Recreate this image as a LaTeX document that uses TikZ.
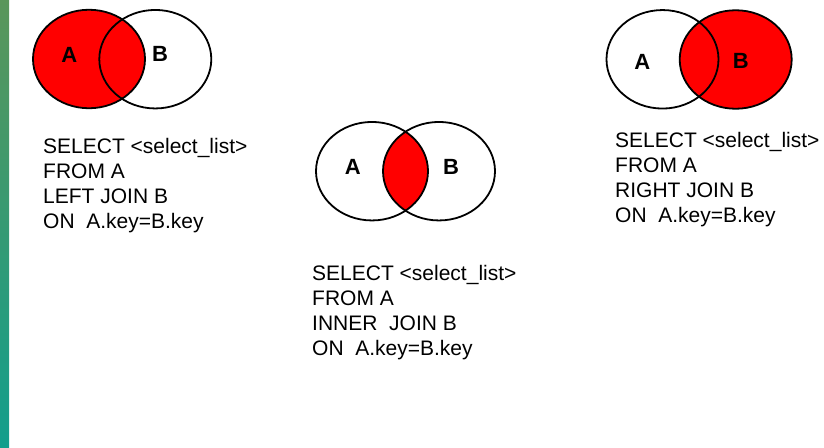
\documentclass[tikz,border=0pt]{standalone}
\usepackage{fontspec}
\setmainfont{Liberation Sans}
\usepackage{xcolor}
\usepackage{tikz}
\usetikzlibrary{shapes.geometric,backgrounds}
\definecolor{joinred}{RGB}{255,0,0}
\definecolor{stripteal}{RGB}{18,158,140}
\definecolor{stripolive}{RGB}{90,150,90}
\tikzset{set/.style={draw=black, ellipse, line width=1.8pt, minimum width=112pt, minimum height=98.5pt, inner sep=0pt}}
\tikzset{setname/.style={font=\bfseries\fontsize{22}{22}\selectfont, inner sep=0pt}}
\tikzset{query/.style={font=\fontsize{21}{25}\selectfont, align=left, anchor=north west, inner sep=0pt}}

\begin{document}
\begin{tikzpicture}[x=1pt, y=-1pt]
		\useasboundingbox (0,0) rectangle (824,447);
		\shade[top color=stripolive, bottom color=stripteal] (0,0) rectangle (9,447);
		
		\node[set, fill=joinred] (lA) at (89,59) {};
		\node[set] (lB) at (155.3,59.2) {};
		\node[setname] (lAname) at (69.3,55) {A};
		\node[setname] (lBname) at (160,54) {B};
		\node[query] (lQ) at (43,138) {SELECT <select\_list>\\FROM A\\LEFT JOIN B\\ON\ \ A.key=B.key};
		
		\node[set] (mA) at (372,171.2) {};
		\node[set] (mB) at (439,171.2) {};
		\begin{scope}[on background layer]
			\clip (mA.center) ellipse [x radius=56pt, y radius=49.25pt];
			\fill[joinred] (mB.center) ellipse [x radius=56pt, y radius=49.25pt];
		\end{scope}
		\node[setname] (mAname) at (352.7,167.3) {A};
		\node[setname] (mBname) at (451,166.7) {B};
		\node[query] (mQ) at (312,265) {SELECT <select\_list>\\FROM A\\INNER\ \ JOIN B\\ON\ \ A.key=B.key};
		
		\node[set, fill=joinred] (rB) at (735.7,59.5) {};
		\node[set] (rA) at (662.5,59.3) {};
		\node[setname] (rAname) at (642.3,61.7) {A};
		\node[setname] (rBname) at (740.7,61) {B};
		\node[query] (rQ) at (615,132.5) {SELECT <select\_list>\\FROM A\\RIGHT JOIN B\\ON\ \ A.key=B.key};
	\end{tikzpicture}
\end{document}
